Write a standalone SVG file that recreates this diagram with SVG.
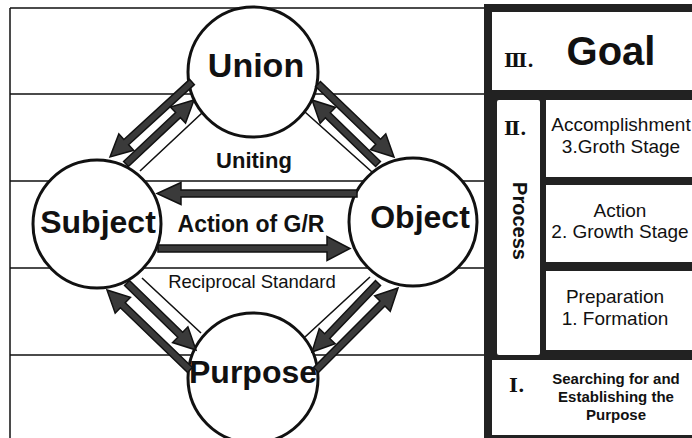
<svg xmlns="http://www.w3.org/2000/svg" width="692" height="438" viewBox="0 0 692 438">
<style>
.grid{stroke:#111;stroke-width:1.5;fill:none}
.node{fill:#fff;stroke:#111;stroke-width:3}
.lbl{font-family:"Liberation Sans",Arial,sans-serif;font-weight:bold;fill:#111;text-anchor:middle}
.txt{font-family:"Liberation Sans",Arial,sans-serif;fill:#111;text-anchor:middle}
.rom{font-family:"DejaVu Serif","Noto Sans CJK JP",serif;font-weight:bold;fill:#111;font-size:19px}
.arr{fill:#3a3a3a;stroke:#111;stroke-width:1.5;stroke-linejoin:miter}
.thin{stroke:#111;stroke-width:1.6;fill:none}
.box{fill:#fff}
</style>
<rect width="692" height="438" fill="#fff"/>
<g id="grid">
<path class="grid" d="M10,8 H486 M10,8 V438 M10,94 H486 M10,181 H486 M10,268 H486 M10,355 H486"/>
</g>
<g id="panel">
<rect x="484" y="4" width="208" height="434" fill="#222"/>
<rect class="box" x="492" y="12" width="200" height="78"/>
<rect class="box" x="497" y="100" width="43" height="255" rx="2"/>
<rect class="box" x="546" y="100" width="146" height="77"/>
<rect class="box" x="546" y="185" width="146" height="77"/>
<rect class="box" x="546" y="271" width="146" height="79"/>
<rect class="box" x="492" y="360" width="200" height="75"/>
</g>
<g id="goal">
<text class="rom" x="504" y="67">Ⅲ.</text>
<text class="lbl" x="611" y="65" font-size="40">Goal</text>
</g>
<g id="process">
<text class="rom" x="504" y="135">Ⅱ.</text>
<text class="lbl" font-size="20" transform="translate(513,221) rotate(90)">Process</text>
</g>
<g id="accomplishment">
<text class="txt" x="621" y="131" font-size="19">Accomplishment</text>
<text class="txt" x="621" y="153" font-size="19">3.Groth Stage</text>
</g>
<g id="action">
<text class="txt" x="620" y="217" font-size="19">Action</text>
<text class="txt" x="620" y="238" font-size="19">2. Growth Stage</text>
</g>
<g id="preparation">
<text class="txt" x="615" y="303" font-size="19">Preparation</text>
<text class="txt" x="615" y="325" font-size="19">1. Formation</text>
</g>
<g id="searching">
<text class="rom" x="509" y="392">Ⅰ.</text>
<text class="lbl" x="616" y="384" font-size="15">Searching for and</text>
<text class="lbl" x="616" y="402" font-size="15">Establishing the</text>
<text class="lbl" x="616" y="420" font-size="15">Purpose</text>
</g>
<g id="union">
<circle class="node" cx="253" cy="72" r="65"/>
<text class="lbl" x="256" y="77" font-size="34">Union</text>
</g>
<g id="subject">
<circle class="node" cx="97" cy="224" r="64"/>
<text class="lbl" x="98" y="233" font-size="32">Subject</text>
</g>
<g id="object">
<circle class="node" cx="413" cy="222" r="64"/>
<text class="lbl" x="420" y="228" font-size="32">Object</text>
</g>
<g id="purpose">
<circle class="node" cx="253" cy="378" r="65"/>
<text class="lbl" x="253" y="383" font-size="32">Purpose</text>
</g>
<g id="connectors">
<path class="thin" d="M140,171 L202,113 M305,112 L372,172 M142,278 L201,333 M370,277 L305,337"/>
<path class="arr" transform="translate(192,82) rotate(137.55)" d="M0,-3.5 H89.1 V-11 L111.1,0 L89.1,11 V3.5 H0 Z"/>
<path class="arr" transform="translate(126,164) rotate(-43.26)" d="M0,-3.5 H71.4 V-11 L93.4,0 L71.4,11 V3.5 H0 Z"/>
<path class="arr" transform="translate(318,84) rotate(43.85)" d="M0,-3.5 H83.4 V-11 L105.4,0 L83.4,11 V3.5 H0 Z"/>
<path class="arr" transform="translate(378,164) rotate(-135.88)" d="M0,-3.5 H69.9 V-11 L91.9,0 L69.9,11 V3.5 H0 Z"/>
<path class="arr" transform="translate(190,370) rotate(-136.06)" d="M0,-3.5 H93.3 V-11 L115.3,0 L93.3,11 V3.5 H0 Z"/>
<path class="arr" transform="translate(127,283) rotate(44.16)" d="M0,-3.5 H74.2 V-11 L96.2,0 L74.2,11 V3.5 H0 Z"/>
<path class="arr" transform="translate(316,370) rotate(-45)" d="M0,-3.5 H94 V-11 L116,0 L94,11 V3.5 H0 Z"/>
<path class="arr" transform="translate(378,283) rotate(133.73)" d="M0,-3.5 H73.5 V-11 L95.5,0 L73.5,11 V3.5 H0 Z"/>
<path class="arr" transform="translate(357,193.5) rotate(180)" d="M0,-3.5 H176 V-11 L200,0 L176,11 V3.5 H0 Z"/>
<path class="arr" transform="translate(158,248.5)" d="M0,-3.5 H169 V-12 L192,0 L169,12 V3.5 H0 Z"/>
</g>
<g id="edge-labels">
<text class="lbl" x="254" y="168" font-size="22">Uniting</text>
<text class="lbl" x="251" y="232" font-size="23">Action of G/R</text>
<text class="txt" x="252" y="288" font-size="18.5">Reciprocal Standard</text>
</g>
</svg>
